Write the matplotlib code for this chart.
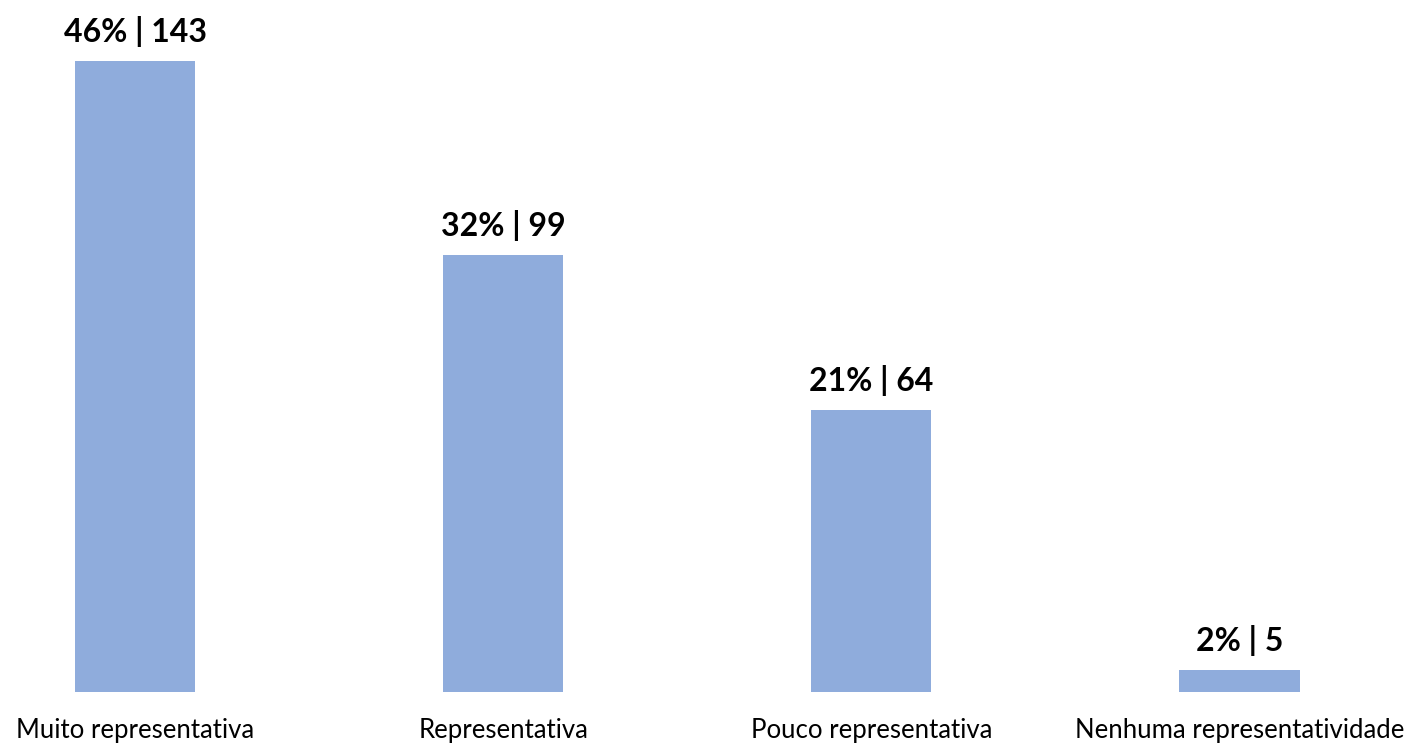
import matplotlib.pyplot as plt

# Survey answers and counts
categories = ['Muito representativa', 'Representativa', 'Pouco representativa', 'Nenhuma representatividade']
counts = [143, 99, 64, 5]
percents = [46, 32, 21, 2]

BAR_COLOR = '#8FACDC'

plt.rcParams['font.family'] = ['Lato', 'DejaVu Sans']

fig = plt.figure(figsize=(14.14, 7.47), dpi=100)
ax = fig.add_axes([0, 55 / 747, 1, 692 / 747])

x = range(len(categories))
bars = ax.bar(x, counts, width=0.326, color=BAR_COLOR)

ax.set_xlim(-0.3667, 3.474)
ax.set_ylim(0, 156.8)

# value labels on top of each bar
for rect, pct, n in zip(bars, percents, counts):
    ax.annotate(f'{pct}% | {n}',
                xy=(rect.get_x() + rect.get_width() / 2, rect.get_height()),
                xytext=(0, 10), textcoords='offset points',
                ha='center', va='bottom', fontsize=23, fontweight='bold')

ax.set_xticks(list(x))
ax.set_xticklabels(categories, fontsize=18.5)
ax.tick_params(axis='x', length=0, pad=19)
ax.set_yticks([])
for s in ax.spines.values():
    s.set_visible(False)

fig.savefig('out.png', dpi=100)
